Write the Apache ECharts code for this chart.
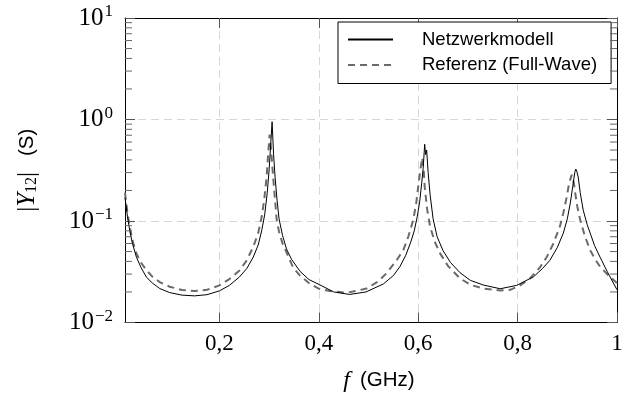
<!DOCTYPE html>
<html>
<head>
<meta charset="utf-8">
<script src="https://cdn.jsdelivr.net/npm/echarts@6/dist/echarts.min.js"></script>
<style>
html,body{margin:0;padding:0;background:#fff;}
#chart{width:627px;height:401px;}
</style>
</head>
<body>
<div id="chart"></div>
<script>
// Netzwerkmodell (solid)
const netzF = [0.010,0.015,0.020,0.025,0.033,0.042,0.053,0.065,0.080,0.100,0.125,0.150,0.175,0.200,0.220,0.240,0.255,0.268,0.278,0.285,0.291,0.296,0.300,0.303,0.306,0.309,0.312,0.316,0.320,0.327,0.335,0.345,0.362,0.380,0.402,0.430,0.462,0.495,0.530,0.550,0.563,0.575,0.585,0.592,0.598,0.603,0.607,0.610,0.613,0.615,0.617,0.620,0.624,0.630,0.638,0.650,0.665,0.684,0.705,0.731,0.765,0.798,0.832,0.850,0.865,0.880,0.892,0.900,0.906,0.911,0.915,0.917,0.919,0.922,0.926,0.932,0.940,0.946,0.955,0.966,0.980,1.000];
const netzY = [0.17,0.11,0.078,0.060,0.044,0.035,0.028,0.0245,0.0216,0.0197,0.0186,0.0183,0.0188,0.0205,0.0232,0.028,0.034,0.044,0.058,0.080,0.115,0.185,0.32,0.55,0.95,0.45,0.27,0.16,0.105,0.072,0.053,0.042,0.032,0.0265,0.0235,0.0200,0.0189,0.0200,0.0240,0.029,0.0354,0.046,0.062,0.080,0.110,0.155,0.236,0.33,0.57,0.45,0.50,0.30,0.18,0.105,0.070,0.051,0.039,0.031,0.026,0.0234,0.0215,0.0232,0.0282,0.034,0.041,0.055,0.076,0.105,0.15,0.22,0.30,0.325,0.31,0.27,0.19,0.128,0.092,0.076,0.057,0.044,0.032,0.021];
// Referenz (Full-Wave) (dashed)
const refF = [0.010,0.015,0.020,0.026,0.033,0.042,0.053,0.065,0.080,0.100,0.125,0.150,0.175,0.200,0.220,0.241,0.255,0.268,0.278,0.285,0.290,0.295,0.298,0.301,0.304,0.308,0.312,0.315,0.320,0.327,0.335,0.348,0.362,0.380,0.400,0.422,0.456,0.496,0.520,0.536,0.555,0.570,0.580,0.590,0.596,0.600,0.604,0.608,0.611,0.613,0.618,0.624,0.633,0.644,0.660,0.684,0.705,0.731,0.765,0.785,0.805,0.825,0.845,0.859,0.872,0.885,0.892,0.899,0.904,0.909,0.913,0.916,0.920,0.926,0.935,0.946,0.956,0.966,0.983,1.000];
const refY = [0.19,0.12,0.085,0.062,0.048,0.039,0.0328,0.0283,0.0250,0.0225,0.0209,0.0204,0.0210,0.0232,0.0268,0.0328,0.041,0.0557,0.076,0.11,0.16,0.274,0.45,0.71,0.50,0.274,0.16,0.105,0.078,0.060,0.049,0.035,0.029,0.0245,0.0215,0.0204,0.0196,0.0216,0.0255,0.0305,0.040,0.0516,0.070,0.102,0.15,0.218,0.31,0.42,0.32,0.218,0.13,0.088,0.063,0.048,0.036,0.0272,0.0235,0.0216,0.0207,0.0210,0.0232,0.0272,0.035,0.0444,0.060,0.088,0.12,0.174,0.24,0.285,0.24,0.187,0.14,0.102,0.072,0.0516,0.042,0.0354,0.029,0.0245];
// axis ticks
const xTicks = [0.2,0.4,0.6,0.8,1];
const yMinorTicks = [0.02,0.03,0.04,0.05,0.06,0.07,0.08,0.09,0.2,0.3,0.4,0.5,0.6,0.7,0.8,0.9,2,3,4,5,6,7,8,9];
const seriesNames = ['Netzwerkmodell','Referenz (Full-Wave)'];

const serif = 'Liberation Serif';
const sans = 'Liberation Sans';
const zip = (a,b) => a.map((v,i)=>[v,b[i]]);

const chart = echarts.init(document.getElementById('chart'), null, {renderer:'canvas'});
const gridLine = {show:true, lineStyle:{color:'#d6d6d6', type:[8,5], width:1}};
chart.setOption({
  animation:false,
  backgroundColor:'#fff',
  grid:{left:125, right:10, top:18, bottom:78.5, outerBoundsMode:'none', containLabel:false},
  legend:{
    data:seriesNames,
    orient:'vertical',
    left:338, top:22,
    itemWidth:45, itemHeight:20, itemGap:5.5,
    padding:[7.5,14,8.5,9],
    borderColor:'#000', borderWidth:1, backgroundColor:'#fff',
    itemStyle:{opacity:0},
    textStyle:{fontFamily:sans, fontSize:18.5, color:'#000', padding:[0,0,0,24], lineHeight:20},
    selectedMode:false
  },
  xAxis:[{
    type:'value', min:0.01, max:1, position:'bottom',
    axisLine:{show:true, onZero:false, lineStyle:{color:'#000', width:1}},
    axisTick:{show:true, inside:true, length:10, customValues:xTicks, lineStyle:{color:'#555'}},
    axisLabel:{customValues:xTicks, margin:10, fontFamily:serif, fontSize:23, color:'#000',
      formatter:v=>String(v).replace('.',',')},
    splitLine:gridLine,
    name:'{i|f}{t|(GHz)}', nameLocation:'middle', nameGap:46,
    nameTextStyle:{padding:[0,0,0,16], rich:{
      i:{fontFamily:serif, fontStyle:'italic', fontSize:24, color:'#000'},
      t:{fontFamily:sans, fontSize:20.5, color:'#000', padding:[0,0,0,10]}}}
  },{
    type:'value', min:0.01, max:1, position:'top',
    axisLine:{show:true, onZero:false, lineStyle:{color:'#000', width:1}},
    axisTick:{show:true, inside:true, length:10, customValues:xTicks, lineStyle:{color:'#555'}},
    axisLabel:{show:false}, splitLine:{show:false}
  }],
  yAxis:[{
    type:'log', logBase:10, min:0.01, max:10, position:'left',
    axisLine:{show:true, onZero:false, lineStyle:{color:'#000', width:1}},
    axisTick:{show:true, inside:true, length:10, lineStyle:{color:'#555'}},
    axisLabel:{margin:12, formatter:v=>{
        const e = Math.round(Math.log10(v));
        return '{b|10}{s|' + (e<0 ? '\u2212'+(-e) : e) + '}';
      },
      rich:{
        b:{fontFamily:serif, fontSize:25, color:'#000', lineHeight:26},
        s:{fontFamily:serif, fontSize:17, color:'#000', padding:[0,0,12,1]}
      }},
    splitLine:gridLine,
    name:'{m||}{i|Y}{sub|12}{m||}{t|(S)}', nameLocation:'middle', nameGap:85, nameRotate:90,
    nameTextStyle:{rich:{
      m:{fontFamily:serif, fontSize:25, color:'#000'},
      i:{fontFamily:serif, fontStyle:'italic', fontSize:25, color:'#000'},
      sub:{fontFamily:serif, fontSize:16, color:'#000', padding:[9,0,0,0]},
      t:{fontFamily:sans, fontSize:20.5, color:'#000', padding:[0,0,0,16]}}}
  },{
    type:'log', logBase:10, min:0.01, max:10, position:'right',
    axisLine:{show:true, onZero:false, lineStyle:{color:'#000', width:1}},
    axisTick:{show:true, inside:true, length:10, lineStyle:{color:'#555'}},
    axisLabel:{show:false}, splitLine:{show:false}
  }],
  series:[
    {
      name:seriesNames[0], type:'line', data:zip(netzF, netzY), symbol:'none', z:4,
      lineStyle:{color:'#000', width:1}, itemStyle:{color:'#000'}
    },
    {
      name:seriesNames[1], type:'line', data:zip(refF, refY), symbol:'none', z:3,
      lineStyle:{color:'#6a6a6a', width:2, type:[7,5]}, itemStyle:{color:'#6a6a6a'}
    },
    {
      name:'minorTicks', type:'custom', silent:true, clip:false, z:5,
      data:yMinorTicks.map(v=>[0.5, v]),
      renderItem:(params, api)=>{
        const cs = params.coordSys;
        const y = api.coord([0.5, api.value(1)])[1];
        const st = {stroke:'#666', lineWidth:1};
        return {type:'group', children:[
          {type:'line', shape:{x1:cs.x, y1:y, x2:cs.x+7, y2:y}, style:st},
          {type:'line', shape:{x1:cs.x+cs.width-7, y1:y, x2:cs.x+cs.width, y2:y}, style:st}
        ]};
      }
    }
  ]
});
</script>
</body>
</html>
